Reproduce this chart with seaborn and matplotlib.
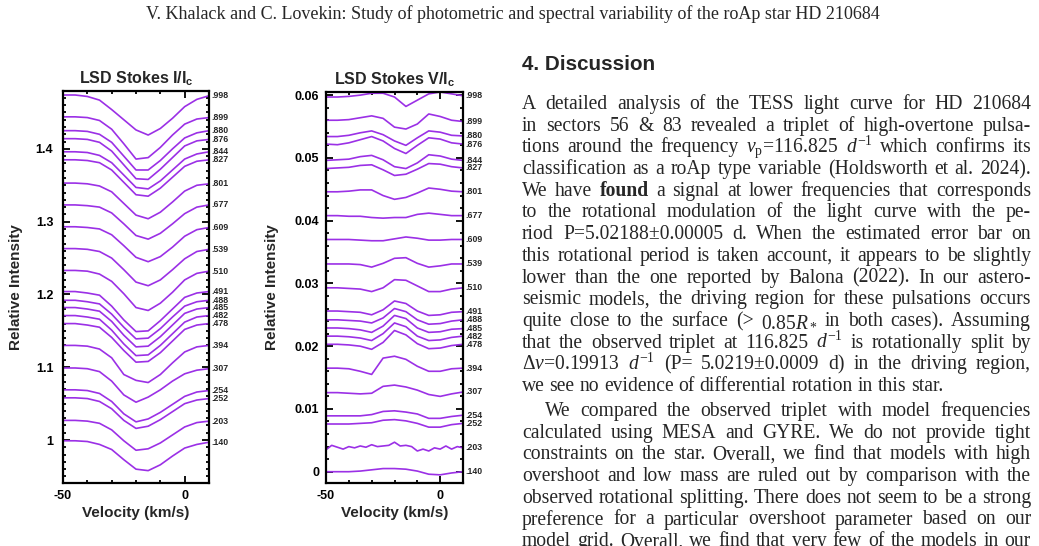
#-- LSD Stokes I and V profiles of HD 210684 with the discussion text --#

import numpy as np
import pandas as pd
import matplotlib
matplotlib.use('Agg')
import matplotlib.pyplot as plt
import seaborn as sns
from matplotlib.ticker import MultipleLocator, FuncFormatter

# rotational phase of each profile (top to bottom)
phases = ['.998', '.899', '.880', '.876', '.844', '.827', '.801', '.677', '.609', '.539', '.510',
          '.491', '.488', '.485', '.482', '.478', '.394', '.307', '.254', '.252', '.203', '.140']
velocity = [-50, -45, -40, -35, -30, -25, -20, -15, -10, -5, 0, 5, 10]

# Stokes I : continuum level of every shifted profile and the dip below it (in 0.001)
i_continuum = [1.474, 1.444, 1.425, 1.414, 1.396, 1.385, 1.353, 1.323, 1.293, 1.263, 1.233,
               1.204, 1.192, 1.182, 1.171, 1.160, 1.130, 1.099, 1.069, 1.058, 1.027, 0.999]
i_dip = [
    [0, 0, -2, -7, -20, -34, -48, -55, -46, -32, -16, -6, -1],
    [0, 0, -1, -5, -17, -37, -58, -56, -42, -25, -10, -3, -1],
    [0, 0, -1, -5, -16, -35, -54, -54, -41, -25, -10, -3, 0],
    [0, 0, -1, -5, -17, -36, -55, -56, -42, -26, -10, -3, -1],
    [0, 0, -1, -5, -15, -32, -49, -51, -40, -25, -10, -3, 0],
    [0, 0, -1, -4, -14, -31, -48, -50, -39, -24, -9, -2, 0],
    [0, 0, -1, -4, -12, -28, -44, -49, -40, -26, -11, -3, -1],
    [0, 0, -1, -3, -11, -26, -42, -47, -39, -26, -12, -3, 0],
    [0, 0, -1, -3, -11, -26, -42, -48, -41, -28, -13, -4, -1],
    [0, 0, -1, -4, -13, -29, -46, -51, -43, -29, -14, -4, -1],
    [0, 0, -1, -5, -15, -32, -51, -55, -45, -30, -13, -4, -1],
    [0, 0, -2, -5, -20, -39, -55, -54, -40, -24, -8, -2, 0],
    [0, 0, -2, -5, -19, -37, -53, -52, -39, -23, -8, -2, 0],
    [0, 0, -2, -5, -19, -38, -54, -53, -40, -24, -8, -2, 0],
    [0, 0, -2, -5, -20, -39, -55, -54, -41, -25, -9, -2, 0],
    [0, 0, -2, -5, -19, -37, -53, -52, -40, -24, -8, -2, 0],
    [0, 0, -1, -5, -17, -40, -48, -51, -40, -24, -9, -2, 0],
    [0, 0, -1, -5, -18, -37, -47, -40, -30, -18, -8, -3, -1],
    [0, 0, -1, -5, -16, -33, -44, -40, -31, -20, -9, -3, -1],
    [0, 0, -1, -5, -15, -31, -42, -39, -30, -19, -8, -3, -1],
    [0, 0, -1, -4, -13, -28, -41, -39, -31, -20, -9, -3, -1],
    [0, 0, -1, -5, -12, -26, -39, -41, -33, -21, -10, -5, -2],
]

# Stokes V (in 1e-4), the noisy .203 profile is kept apart on a finer grid
v_profiles = [
    [597, 597, 598, 600, 603, 603, 597, 582, 592, 602, 605, 602, 599],
    [560, 560, 561, 564, 567, 563, 549, 546, 554, 570, 566, 560, 558],
    [534, 534, 536, 540, 543, 537, 527, 520, 532, 543, 541, 536, 535],
    [522, 521, 524, 529, 534, 527, 515, 507, 520, 532, 530, 524, 522],
    [496, 497, 498, 502, 504, 497, 486, 483, 492, 505, 503, 498, 496],
    [483, 484, 485, 488, 489, 481, 472, 474, 482, 491, 490, 486, 484],
    [446, 446, 447, 449, 449, 440, 434, 437, 444, 452, 450, 447, 446],
    [408, 408, 407, 407, 405, 404, 405, 405, 410, 412, 410, 408, 408],
    [370, 370, 370, 369, 368, 368, 371, 374, 372, 369, 369, 370, 370],
    [331, 331, 331, 330, 326, 332, 340, 341, 332, 326, 328, 331, 331],
    [293, 293, 292, 291, 287, 293, 306, 305, 296, 287, 287, 291, 293],
    [256, 256, 255, 254, 250, 258, 272, 268, 256, 249, 250, 254, 255],
    [242, 242, 241, 240, 237, 245, 260, 255, 242, 235, 236, 240, 242],
    [229, 229, 228, 226, 222, 232, 249, 244, 229, 222, 223, 227, 228],
    [216, 216, 215, 213, 209, 220, 237, 231, 216, 209, 210, 214, 216],
    [203, 203, 202, 200, 195, 206, 225, 218, 204, 196, 197, 201, 203],
    [165, 165, 164, 160, 155, 181, 184, 179, 168, 160, 160, 164, 165],
    [126, 126, 125, 124, 125, 136, 138, 135, 130, 123, 120, 124, 127],
    [89, 89, 89, 89, 91, 96, 97, 95, 92, 85, 85, 88, 90],
    [76, 76, 76, 77, 78, 82, 83, 81, 77, 71, 71, 75, 77],
    None,
    [0, 0, 0, 1, 3, 5, 5, 4, 1, -4, -5, -2, 0],
]
v203_velocity = [-50, -47.5, -45, -42.5, -40, -37.5, -35, -32.5, -30, -27.5, -25, -22.5, -20,
                 -17.5, -15, -12.5, -10, -7.5, -5, -2.5, 0, 2.5, 5, 7.5, 10]
v203_values = [35, 42, 39, 36, 40, 38, 41, 39, 43, 40, 41, 42, 47, 41, 42, 40, 33, 36, 33, 38,
               36, 41, 36, 40, 38]

header = 'V. Khalack and C. Lovekin: Study of photometric and spectral variability of the roAp star HD 210684'
heading = '4. Discussion'
para1 = [
    'A detailed analysis of the TESS light curve for HD 210684',
    'in sectors 56 & 83 revealed a triplet of high-overtone pulsa-',
    r'tions around the frequency $\nu_\mathrm{p}$=116.825 $d^{-1}$ which confirms its',
    'classification as a roAp type variable (Holdsworth et al. 2024).',
    'We have *found a signal at lower frequencies that corresponds',
    'to the rotational modulation of the light curve with the pe-',
    'riod P=5.02188±0.00005 d. When the estimated error bar on',
    'this rotational period is taken account, it appears to be slightly',
    'lower than the one reported by Balona (2022). In our astero-',
    'seismic models, the driving region for these pulsations occurs',
    r'quite close to the surface (> 0.85$R_*$ in both cases). Assuming',
    r'that the observed triplet at 116.825 $d^{-1}$ is rotationally split by',
    r'$\Delta\nu$=0.19913 $d^{-1}$ (P= 5.0219±0.0009 d) in the driving region,',
    'we see no evidence of differential rotation in this star.',
]
para2 = [
    'We compared the observed triplet with model frequencies',
    'calculated using MESA and GYRE. We do not provide tight',
    'constraints on the star. Overall, we find that models with high',
    'overshoot and low mass are ruled out by comparison with the',
    'observed rotational splitting. There does not seem to be a strong',
    'preference for a particular overshoot parameter based on our',
    'model grid. Overall, we find that very few of the models in our',
]

# long tables for seaborn
rows_i, rows_v = [], []
for k, ph in enumerate(phases):
    for v, d in zip(velocity, i_dip[k]):
        rows_i.append((ph, v, i_continuum[k] + d / 1000))
    if v_profiles[k] is None:
        for v, s in zip(v203_velocity, v203_values):
            rows_v.append((ph, v, s / 1e4))
    else:
        for v, s in zip(velocity, v_profiles[k]):
            rows_v.append((ph, v, s / 1e4))
df_i = pd.DataFrame(rows_i, columns=['phase', 'velocity', 'value'])
df_v = pd.DataFrame(rows_v, columns=['phase', 'velocity', 'value'])

sns.set_style('ticks')
plt.rcParams['font.family'] = ['Liberation Sans', 'DejaVu Sans']
plt.rcParams['axes.unicode_minus'] = False
plt.rcParams['mathtext.fontset'] = 'custom'
plt.rcParams['mathtext.rm'] = 'Liberation Serif'
plt.rcParams['mathtext.it'] = 'Liberation Serif:italic'
plt.rcParams['mathtext.bf'] = 'Liberation Serif:bold'
plt.rcParams['mathtext.sf'] = 'Liberation Sans:bold'

W, H = 1039, 546
fig = plt.figure(figsize=(W / 100, H / 100), dpi=100)
fig.patch.set_facecolor('white')
purple = '#9b30e6'

def px_axes(x0, y0, x1, y1):
    return fig.add_axes([x0 / W, 1 - y1 / H, (x1 - x0) / W, (y1 - y0) / H])

ax1 = px_axes(63, 91, 209, 483)
ax2 = px_axes(326, 92, 463, 483)

for ax, df, ylim, major, minor, title, ypad, lpad in [
        (ax1, df_i, (0.941, 1.4795), 0.1, 0.01, r'LSD Stokes I/I$_\mathsf{c}$', 7, 9),
        (ax2, df_v, (-0.0018, 0.0605), 0.01, 0.002, r'LSD Stokes V/I$_\mathsf{c}$', 5, 11)]:
    sns.lineplot(data=df, x='velocity', y='value', units='phase', estimator=None,
                 color=purple, lw=1.2, sort=False, ax=ax)
    ax.set_xlim(-50, 10)
    ax.set_ylim(*ylim)
    ax.xaxis.set_major_locator(MultipleLocator(50))
    ax.xaxis.set_minor_locator(MultipleLocator(10))
    ax.yaxis.set_major_locator(MultipleLocator(major))
    ax.yaxis.set_minor_locator(MultipleLocator(minor))
    ax.yaxis.set_major_formatter(FuncFormatter(lambda v, p: f'{round(v, 4):g}'))
    ax.xaxis.set_major_formatter(FuncFormatter(lambda v, p: f'{v:g}'))
    ax.tick_params(which='both', direction='in', top=True, right=True, width=1.3,
                   labelsize=9, colors='black')
    ax.tick_params(which='major', length=5)
    ax.tick_params(which='minor', length=2.5)
    ax.tick_params(axis='y', pad=ypad)
    ax.tick_params(axis='x', pad=5)
    for lab in ax.get_xticklabels() + ax.get_yticklabels():
        lab.set_fontweight('bold')
    for sp in ax.spines.values():
        sp.set_linewidth(1.6)
        sp.set_color('black')
    ax.set_title(title, fontsize=11.5, fontweight='bold', pad=5)
    ax.set_xlabel('Velocity (km/s)', fontsize=11, fontweight='bold', labelpad=3)
    ax.set_ylabel('Relative Intensity', fontsize=11, fontweight='bold', labelpad=lpad)
    # phase labels at the right end of each profile
    for ph in phases:
        yv = df[df.phase == ph].value.iloc[-1]
        ax.annotate(ph, (10, yv), xytext=(2, 0), textcoords='offset points',
                    fontsize=6.3, fontweight='bold', va='center', ha='left',
                    annotation_clip=False)

# ---- page text ----
renderer = fig.canvas.get_renderer()

def measure(s, size, weight='normal', family='Liberation Serif'):
    t = fig.text(0, 0, s, fontsize=size, fontweight=weight, family=family)
    w = t.get_window_extent(renderer).width
    t.remove()
    return w

def put(s, x, y, size, weight='normal', family='Liberation Serif', ha='left'):
    fig.text(x / W, 1 - y / H, s, fontsize=size, fontweight=weight, family=family,
             ha=ha, va='baseline')

hsize = 10 * 734 / measure(header, 10)
put(header, 513, 19, hsize, ha='center')
dsize = 10 * 133 / measure(heading, 10, 'bold', 'Liberation Sans')
put(heading, 522, 70, dsize, 'bold', 'Liberation Sans')

def natural(line, size):
    words = line.split(' ')
    sp = measure('a b', size) - measure('ab', size)
    tot = 0
    for w in words:
        wt = 'bold' if w.startswith('*') else 'normal'
        tot += measure(w.lstrip('*'), size, wt)
    return tot + sp * (len(words) - 1)

left, right = 522, 1031
# longest justified line sets the body font size
justified = para1[:-1] + para2
widest = max(natural(l, 10) for l in justified)
bsize = 10 * (right - left) * 0.99 / widest
space = measure('a b', bsize) - measure('ab', bsize)

def put_line(line, y, x0, x1, justify=True):
    words = line.split(' ')
    items = []
    for w in words:
        wt = 'bold' if w.startswith('*') else 'normal'
        w = w.lstrip('*')
        items.append((w, wt, measure(w, bsize, wt)))
    total = sum(i[2] for i in items)
    gap = (x1 - x0 - total) / (len(items) - 1) if justify else space
    x = x0
    for w, wt, wd in items:
        put(w, x, y, bsize, wt)
        x += wd + gap

for k, line in enumerate(para1):
    put_line(line, 109 + 21.7 * k, left, right, justify=(k < len(para1) - 1))
for k, line in enumerate(para2):
    x0 = left + 23 if k == 0 else left
    put_line(line, 416 + 21.7 * k, x0, right)

fig.savefig('out.png', dpi=100, facecolor='white')
